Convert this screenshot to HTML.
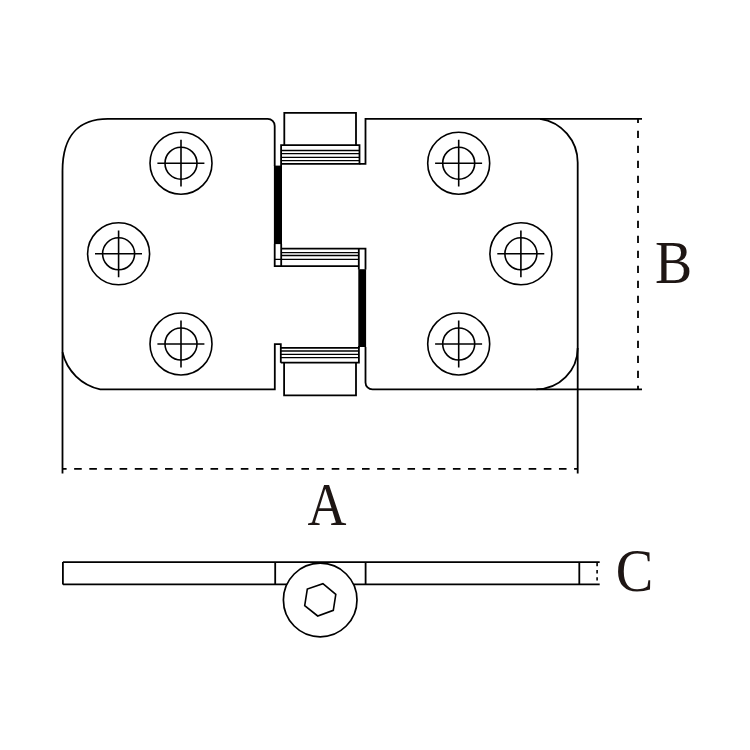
<!DOCTYPE html>
<html>
<head>
<meta charset="utf-8">
<style>
html,body{margin:0;padding:0;background:#fff;}
body{width:750px;height:750px;overflow:hidden;}
svg{display:block;}
text{font-family:"Liberation Serif",serif;font-size:61.5px;fill:#1e1614;}
</style>
</head>
<body>
<svg width="750" height="750" viewBox="0 0 750 750">
<rect x="0" y="0" width="750" height="750" fill="#fff"/>
<g fill="none" stroke="#000" stroke-width="1.8" stroke-linejoin="miter" stroke-linecap="butt">
  <!-- left plate -->
  <path d="M274.7 166 L274.7 125.9 A7 7 0 0 0 267.7 118.9 L107.8 118.9 C81.7 118.9 62.5 132.6 62.5 170.8 L62.5 473.6"/>
  <path d="M62.5 352.3 A49.3 49.3 0 0 0 100.2 389.3 L274.8 389.3 L274.8 344.1 L280.8 344.1 L280.8 362.7"/>
  <!-- right plate -->
  <path d="M365.5 347 L365.5 382.4 A7 7 0 0 0 372.5 389.4 L642 389.4"/>
  <path d="M577.7 473.6 L577.7 162.4 A44.1 44.1 0 0 0 540 118.8"/>
  <path d="M577.7 348 A41.3 41.3 0 0 1 536.4 389.3"/>
  <path d="M642 118.9 L365.5 118.9 L365.5 163.8 L359.5 163.8"/>
  <!-- top knuckle -->
  <path d="M284.3 145.1 L284.3 112.9 L356 112.9 L356 145.1"/>
  <path d="M281.1 166 L281.1 145.1 L359.5 145.1 L359.5 163.8 L281.1 163.8"/>
  <path d="M281.1 150.5 H359.5 M281.1 153.6 H359.5 M281.1 157.3 H359.5 M281.1 160.6 H359.5" stroke-width="1.3"/>
  <!-- middle knuckle -->
  <path d="M274.7 244 L274.7 266.2 L358.8 266.2"/>
  <path d="M281.2 244 L281.2 266.2"/>
  <path d="M281.2 248.6 H365.5 V269.5 M358.8 248.6 V269.5"/>
  <path d="M281.2 252.6 H358.8 M281.2 255.5 H358.8 M274.7 259.4 H358.8" stroke-width="1.35"/>
  <!-- bottom knuckle -->
  <path d="M280.8 347.8 H358.9 V362.7 H280.8"/>
  <path d="M358.9 346 V347.8"/>
  <path d="M280.8 351 H358.9 M280.8 354.4 H358.9 M280.8 357.6 H358.9" stroke-width="1.3"/>
  <path d="M284.1 362.7 V395.3 H356 V362.7"/>
  <!-- dimension extension lines B -->
  <!-- side view -->
  <path d="M62.9 562.1 H599.7 M62.9 584.4 H599.7 M62.9 562.1 V584.4 M579.3 562.1 V584.4 M275.2 562.1 V584.4 M365.6 562.1 V584.4"/>
</g>
<!-- black bars -->
<rect x="273.9" y="165.6" width="8.1" height="78.5" fill="#000"/>
<rect x="358.3" y="269.2" width="7.8" height="77.8" fill="#000"/>
<!-- screw holes -->
<g fill="none" stroke="#000" stroke-width="1.6">
  <g transform="translate(181,163.2)"><circle r="31"/><circle r="16"/><path d="M-23.6 0 H23.4 M0 -23.4 V23.4" stroke-width="1.6"/></g>
  <g transform="translate(118.6,253.8)"><circle r="31"/><circle r="16"/><path d="M-23.6 0 H23.4 M0 -23.4 V23.4" stroke-width="1.6"/></g>
  <g transform="translate(181,344)"><circle r="31"/><circle r="16"/><path d="M-23.6 0 H23.4 M0 -23.4 V23.4" stroke-width="1.6"/></g>
  <g transform="translate(458.7,163.2)"><circle r="31"/><circle r="16"/><path d="M-23.6 0 H23.4 M0 -23.4 V23.4" stroke-width="1.6"/></g>
  <g transform="translate(520.9,253.8)"><circle r="31"/><circle r="16"/><path d="M-23.6 0 H23.4 M0 -23.4 V23.4" stroke-width="1.6"/></g>
  <g transform="translate(458.7,344)"><circle r="31"/><circle r="16"/><path d="M-23.6 0 H23.4 M0 -23.4 V23.4" stroke-width="1.6"/></g>
</g>
<!-- dashed dimension lines -->
<g fill="none" stroke="#000" stroke-width="1.8">
  <path d="M62.4 468.8 H577.8" stroke-dasharray="7.6 7.55" stroke-dashoffset="3.4"/>
  <path d="M638 118.9 V389.4" stroke-dasharray="7.2 7.8" stroke-dashoffset="3.1"/>
  <path d="M597.1 562.2 V584.3" stroke-dasharray="3.3 3.9" stroke-dashoffset="-0.7" stroke-width="1.6"/>
</g>
<!-- side view hinge circle -->
<circle cx="320.2" cy="600" r="36.8" fill="#fff" stroke="#000" stroke-width="1.7"/>
<polygon fill="none" stroke="#000" stroke-width="1.6" points="322.9,583.7 335.8,594.3 333.3,610.3 317.7,616 304.7,605.7 307.3,589.1"/>
<!-- labels -->
<text transform="translate(307.6,524.5) scale(0.878,1)">A</text>
<text transform="translate(655.1,282.5) scale(0.906,1)">B</text>
<text transform="translate(615.7,590.5) scale(0.915,1)">C</text>
</svg>
</body>
</html>
